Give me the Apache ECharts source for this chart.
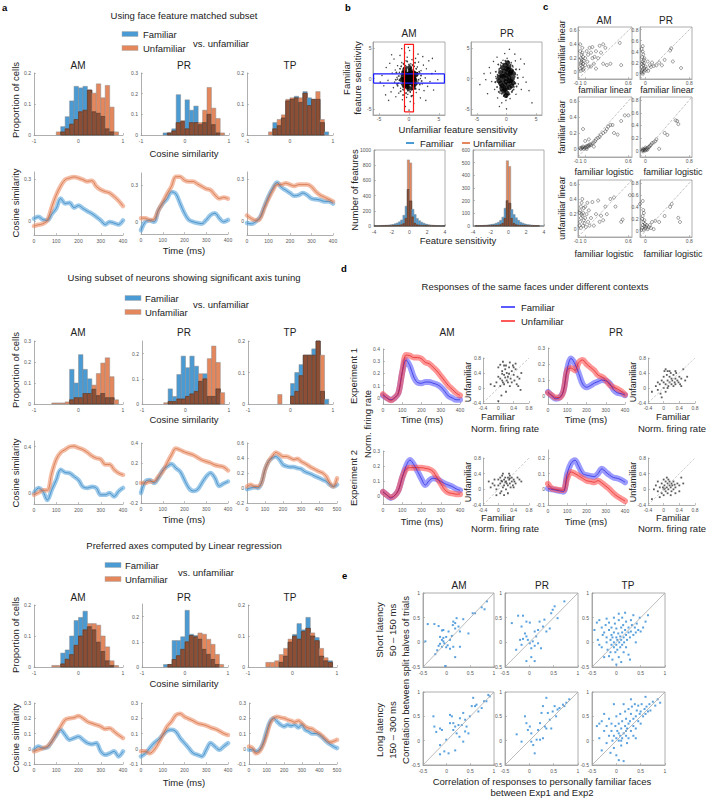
<!DOCTYPE html>
<html><head><meta charset="utf-8">
<script src="https://cdn.jsdelivr.net/npm/echarts@6/dist/echarts.min.js"></script>
<style>html,body{margin:0;padding:0;background:#fff}#c{width:708px;height:798px}</style>
</head><body><div id="c"></div>
<script>
// ---------------- DATA ----------------
const T400 = [0,20,40,60,80,100,120,140,160,180,200,220,240,260,280,300,320,340,360,380,400];
const T500 = [0,20,40,60,80,100,120,140,160,180,200,220,240,260,280,300,320,340,360,380,400,420,440,460,480,500];
const A_BINS = [-0.6,-0.5,-0.4,-0.3,-0.2,-0.1,0,0.1,0.2,0.3,0.4,0.5,0.6,0.7,0.8];
// panel a, section 1 histograms
const S1_AM_FAM_H = [0,0,0.027,0.059,0.11,0.157,0.152,0.157,0.145,0.075,0.07,0.06,0.02,0.01,0];
const S1_AM_UNF_H = [0,0.01,0.01,0.02,0.035,0.05,0.075,0.08,0.145,0.135,0.165,0.12,0.16,0.09,0.01];
const S1_PR_FAM_H = [0,0.01,0.01,0.03,0.195,0.065,0.17,0.12,0.14,0.05,0.06,0.1,0.05,0.01,0];
const S1_PR_UNF_H = [0,0,0.01,0.02,0.06,0.07,0.03,0.06,0.06,0.06,0.12,0.23,0.13,0.08,0.01];
const S1_TP_FAM_H = [0,0,0.04,0.03,0.055,0.11,0.115,0.125,0.105,0.14,0.12,0.115,0.115,0.04,0.01];
const S1_TP_UNF_H = [0,0.01,0.02,0.05,0.065,0.115,0.12,0.12,0.12,0.135,0.095,0.115,0.14,0.05,0];
// section 2 histograms
const S2_AM_FAM_H = [0,0,0,0,0.165,0.1,0.235,0.165,0.12,0.07,0.04,0.05,0.03,0.03,0];
const S2_AM_UNF_H = [0.005,0.005,0.005,0.01,0.02,0.03,0.03,0.05,0.05,0.09,0.145,0.195,0.22,0.13,0.02];
const S2_PR_FAM_H = [0,0,0.06,0.03,0.117,0.19,0.144,0.19,0.15,0.09,0.12,0.03,0.03,0.06,0];
const S2_PR_UNF_H = [0,0.005,0.01,0.01,0.02,0.02,0.03,0.04,0.05,0.12,0.1,0.18,0.23,0.165,0.045];
const S2_TP_FAM_H = [0,0,0,0,0,0,0.065,0.1,0.125,0.155,0.155,0.175,0.2,0.04,0.015];
const S2_TP_UNF_H = [0,0,0,0.03,0,0,0.025,0.04,0.09,0.155,0.155,0.155,0.2,0.155,0];
// section 3 histograms
const S3_AM_FAM_H = [0,0,0.045,0.055,0.1,0.15,0.16,0.18,0.13,0.12,0.08,0.05,0.02,0.005,0];
const S3_AM_UNF_H = [0.005,0.005,0.01,0.025,0.04,0.07,0.1,0.12,0.14,0.14,0.135,0.1,0.065,0.02,0.005];
const S3_PR_FAM_H = [0,0.01,0.01,0.105,0.105,0.12,0.225,0.13,0.125,0.11,0.07,0.05,0.03,0.01,0];
const S3_PR_UNF_H = [0,0,0.01,0.03,0.045,0.07,0.1,0.125,0.12,0.135,0.13,0.11,0.09,0.05,0.01];
const S3_TP_FAM_H = [0,0,0,0.015,0.035,0.08,0.105,0.14,0.12,0.16,0.1,0.095,0.035,0.02,0.02];
const S3_TP_UNF_H = [0.015,0.015,0.02,0.04,0.06,0.09,0.1,0.09,0.115,0.125,0.11,0.085,0.06,0.03,0.015];
// panel a time courses (cosine similarity)
const S1_AM_FAM = [0.017,0.03,0.01,0.005,0.05,0.09,0.16,0.125,0.13,0.095,0.11,0.09,0.07,0.053,0.03,0.005,-0.025,-0.007,-0.015,-0.025,0.005];
const S1_AM_UNF = [-0.036,-0.027,-0.02,0.005,0.1,0.186,0.25,0.295,0.307,0.315,0.307,0.295,0.283,0.288,0.247,0.223,0.21,0.2,0.175,0.145,0.107];
const S1_PR_FAM = [-0.07,0.0,0.01,0.0,0.095,0.15,0.19,0.245,0.23,0.15,0.07,0.015,0.0,-0.01,-0.015,0.015,0.055,0.07,0.03,0.0,0.015];
const S1_PR_UNF = [0.03,0.03,0.015,0.02,0.095,0.16,0.23,0.29,0.37,0.37,0.34,0.33,0.33,0.31,0.29,0.27,0.26,0.22,0.19,0.2,0.19];
const S1_TP_FAM = [-0.015,-0.02,-0.005,0.025,0.1,0.175,0.235,0.275,0.24,0.22,0.2,0.18,0.185,0.2,0.185,0.16,0.155,0.15,0.14,0.14,0.125];
const S1_TP_UNF = [0.04,0.017,0.005,0.017,0.09,0.16,0.22,0.26,0.26,0.27,0.26,0.25,0.26,0.26,0.26,0.245,0.21,0.185,0.17,0.155,0.14];
const S2_AM_FAM = [-0.005,0.04,0.01,-0.065,0.025,0.11,0.2,0.175,0.17,0.14,0.11,0.05,0.04,0.05,0.04,-0.02,-0.02,-0.005,-0.035,0.01,0.04];
const S2_AM_UNF = [-0.02,0,0.02,0.02,0.17,0.29,0.35,0.375,0.4,0.405,0.39,0.375,0.35,0.32,0.3,0.29,0.245,0.245,0.2,0.17,0.155];
const S2_PR_FAM = [-0.1,0.015,0.03,0,0.05,0.13,0.165,0.19,0.15,0.115,0.03,-0.05,-0.08,-0.065,0,0.065,0.1,0.05,-0.03,-0.005,0.015];
const S2_PR_UNF = [0,0,0.015,0.015,0.065,0.115,0.2,0.28,0.345,0.33,0.31,0.295,0.28,0.255,0.23,0.215,0.2,0.18,0.17,0.16,0.125];
const S2_TP_FAM = [-0.015,0,0.01,0,0.065,0.245,0.355,0.4,0.42,0.38,0.31,0.29,0.28,0.28,0.265,0.255,0.22,0.2,0.18,0.155,0.135,0.11,0.09,0.045,0.02,0.045];
const S2_TP_UNF = [0.02,0.045,0.02,0.02,0.065,0.245,0.355,0.42,0.475,0.45,0.42,0.42,0.4,0.38,0.39,0.355,0.33,0.3,0.27,0.245,0.22,0.2,0.155,0.065,0.02,0.13];
const S3_AM_FAM = [-0.007,0.015,0.004,0.009,0.048,0.09,0.124,0.09,0.059,0.07,0.08,0.059,0.037,0.03,0.037,-0.017,-0.04,-0.03,-0.017,-0.05,-0.017];
const S3_AM_UNF = [-0.017,-0.007,0.004,0.015,0.048,0.1,0.146,0.19,0.2,0.204,0.215,0.2,0.178,0.167,0.157,0.146,0.13,0.135,0.113,0.09,0.07];
const S3_PR_FAM = [-0.05,-0.03,0.004,0.037,0.059,0.09,0.117,0.124,0.113,0.07,0.037,0.004,-0.03,-0.04,-0.05,-0.007,0.037,0.015,-0.007,0.015,0.037];
const S3_PR_UNF = [-0.017,-0.017,-0.03,-0.007,0.037,0.09,0.146,0.178,0.22,0.23,0.21,0.196,0.183,0.167,0.16,0.152,0.139,0.13,0.117,0.1,0.09];
const S3_TP_FAM = [-0.007,-0.007,-0.017,-0.007,0.037,0.113,0.178,0.2,0.178,0.157,0.146,0.157,0.15,0.157,0.139,0.157,0.124,0.113,0.1,0.1,0.09,0.07,0.048,0.03,0.015,0.004];
const S3_TP_UNF = [0.015,0.004,-0.03,-0.017,0.026,0.09,0.167,0.2,0.21,0.204,0.2,0.19,0.183,0.174,0.183,0.167,0.146,0.135,0.13,0.113,0.1,0.08,0.059,0.043,0.048,0.059];

// panel b
const B_BINS = [-4,-3.75,-3.5,-3.25,-3,-2.75,-2.5,-2.25,-2,-1.75,-1.5,-1.25,-1,-0.75,-0.5,-0.25,0,0.25,0.5,0.75,1,1.25,1.5,1.75,2,2.25,2.5,2.75,3,3.25,3.5,3.75];
const B_AM_FAM_H = [3,4,5,6,8,10,12,15,20,28,40,55,80,140,260,480,330,220,150,100,70,50,35,25,18,14,10,8,6,5,4,3];
const B_AM_UNF_H = [1,1,1,2,2,3,3,4,5,6,8,10,15,30,100,870,830,120,35,15,10,8,6,5,4,3,2,2,1,1,1,1];
const B_PR_FAM_H = [2,2,3,4,5,6,8,10,13,16,22,30,45,70,140,200,180,130,90,65,45,30,22,16,12,9,7,5,4,3,2,2];
const B_PR_UNF_H = [0,1,1,1,1,2,2,3,3,4,5,6,10,20,60,515,470,60,20,10,6,5,4,3,2,2,1,1,1,1,0,0];
const B_AM_OUTER = [[-4.5,0.5],[-4.2,-1.2],[-3.8,1.8],[-3.5,-0.3],[-3.2,2.5],[-3.0,-2.2],[-2.8,0.9],[-2.6,-1.5],[-2.5,3.2],[-2.3,1.4],[-2.2,-3.0],[-2.0,0.2],[-1.9,2.1],[-1.8,-0.8],[-1.7,-2.4],[-1.6,1.0],[-1.5,3.8],[-1.4,-1.6],[-1.3,0.6],[-1.2,2.6],[-1.1,-3.5],[-1.0,-0.4],[-0.9,1.7],[-0.8,-2.0],[-0.7,4.2],[-0.6,-4.6],[-0.5,2.9],[-0.4,-3.1],[-0.3,3.5],[-0.2,-2.6],[0.1,4.6],[0.2,-3.8],[0.3,2.4],[0.4,-1.9],[0.5,3.1],[0.6,-2.8],[0.7,1.5],[0.8,-4.1],[0.9,2.0],[1.0,-1.1],[1.1,3.3],[1.2,-2.3],[1.3,0.4],[1.4,1.9],[1.5,-0.6],[1.6,2.7],[1.7,-1.8],[1.8,0.9],[1.9,-3.2],[2.0,1.3],[2.2,-0.9],[2.4,2.2],[2.5,-2.0],[2.7,0.1],[2.9,1.6],[3.1,-1.3],[3.3,2.9],[3.5,-0.5],[3.8,0.8],[4.1,-1.9],[4.4,1.2],[4.8,-0.2],[-4.8,-0.6],[-3.9,-2.7],[-2.9,3.9],[-1.2,4.9],[1.5,4.0],[2.8,-3.6],[3.9,3.3],[-3.4,-3.6],[0.0,-5.2],[-0.1,5.1],[1.9,0.0],[-1.9,-0.1],[2.3,3.6],[-2.4,-0.6]];
const B_AM_MID = [[-2.1,1.0],[-1.9,-1.2],[-1.7,0.4],[-1.6,-0.3],[-1.5,1.6],[-1.4,-2.1],[-1.3,2.0],[-1.2,-1.0],[-1.1,1.2],[-1.0,-1.8],[-0.9,2.4],[-0.8,-1.3],[-0.6,2.1],[-0.5,-2.4],[-0.4,1.9],[-0.2,-2.0],[0.0,2.3],[0.2,-2.2],[0.3,1.7],[0.5,-1.8],[0.6,2.2],[0.8,-1.4],[0.9,1.1],[1.1,-1.7],[1.2,1.6],[1.3,-0.9],[1.4,0.9],[1.6,-0.2],[1.7,1.1],[1.8,-1.0],[2.0,0.5],[2.1,-0.4],[-2.2,-0.2],[-2.0,-0.9],[1.0,2.6],[-1.0,-2.7],[0.4,-2.9],[-0.3,2.8]];
const B_AM_CORE = [[-1.0,0.3],[-0.8,-0.6],[-0.6,0.9],[-0.5,-1.1],[-0.4,0.2],[-0.3,-0.3],[-0.2,0.6],[-0.1,-0.8],[0,0],[0.1,0.4],[0.2,-0.5],[0.3,1.0],[0.4,-0.1],[0.5,0.5],[0.6,-0.9],[0.8,0.2],[1.0,-0.4],[0.2,1.3],[-0.3,-1.4],[-1.2,-0.2],[1.2,0.7],[0.0,-1.6],[0.1,1.8],[-0.7,1.5],[0.7,-1.5],[-0.6,0.0],[0.6,0.1],[0.0,0.7],[0.0,-0.7],[-0.4,-0.6],[0.4,0.6],[-0.4,0.6],[0.4,-0.6],[-0.9,-0.1],[0.9,-0.1],[0.2,0.2],[-0.2,-0.1],[0.1,-0.3],[-0.1,0.3],[0.8,0.9],[-0.9,0.9],[-0.8,-1.2],[0.9,-1.0]];
const B_PR_OUTER = [[-4.5,-1.0],[-3.8,0.8],[-3.2,-2.5],[-2.9,1.8],[-2.5,-0.5],[-2.2,2.8],[-2.0,-1.8],[-1.8,0.3],[-1.6,3.5],[-1.5,-3.2],[-1.3,1.4],[-1.1,-2.4],[-1.0,2.2],[-0.8,-4.0],[-0.6,3.0],[-0.5,-2.9],[-0.3,4.1],[-0.1,-3.6],[0.1,3.3],[0.3,-2.7],[0.5,4.8],[0.6,-3.3],[0.8,2.6],[1.0,-2.0],[1.1,1.9],[1.3,-1.4],[1.5,2.9],[1.6,-2.6],[1.8,0.6],[2.0,-0.9],[2.2,1.5],[2.5,-1.8],[2.8,0.2],[3.0,2.4],[3.3,-0.6],[3.8,-2.0],[4.3,-4.0],[-2.7,0.9],[2.4,3.2],[-1.2,-4.6],[0.0,-5.0],[1.4,4.0],[-3.5,-0.2]];
const B_PR_MID = [[-1.9,-0.6],[-1.8,1.1],[-1.6,-1.4],[-1.5,0.6],[-1.4,2.3],[-1.3,-2.2],[-1.2,1.6],[-1.1,-1.2],[-0.9,2.6],[-0.8,-2.5],[-0.6,2.4],[-0.4,-2.7],[-0.2,2.9],[0.0,-3.0],[0.3,2.8],[0.5,-2.6],[0.7,2.3],[0.9,-2.2],[1.1,1.3],[1.2,-1.8],[1.4,0.3],[1.5,-0.8],[1.6,1.5],[1.7,-1.3],[1.9,0.1],[-1.7,0.0],[-1.0,-2.0],[1.0,2.1]];
const B_PR_CORE = [[-1.2,0.2],[-1.0,-0.8],[-1.0,1.0],[-0.8,-1.6],[-0.8,0.4],[-0.7,1.8],[-0.6,-0.3],[-0.5,-2.1],[-0.4,1.2],[-0.3,-1.0],[-0.2,0.6],[-0.2,2.2],[-0.1,-0.5],[0,0],[0,1.6],[0,-1.6],[0.1,-2.4],[0.2,0.9],[0.3,-0.9],[0.4,0.2],[0.4,1.9],[0.5,-1.5],[0.6,0.7],[0.7,-0.4],[0.8,1.3],[0.9,-1.2],[1.0,0.0],[1.2,0.8],[1.1,-0.7],[-1.3,-0.4],[0.2,2.6],[-0.1,-2.8],[-0.5,0.4],[0.5,-0.4],[-0.3,-1.8],[0.3,1.5],[-0.7,-1.2],[0.7,1.0]];
const B_AM_BLUE_BOX = [[-5.9,-0.75],[5.9,-0.75],[5.9,0.75],[-5.9,0.75],[-5.9,-0.75]];
const B_AM_RED_BOX = [[-0.75,-5.5],[0.75,-5.5],[0.75,5.6],[-0.75,5.6],[-0.75,-5.5]];

// panel c
const C1_AM = [[-0.07,0.05],[-0.06,0.1],[-0.05,0.15],[-0.06,0.2],[-0.05,0.25],[-0.07,0.3],[-0.04,0.35],[-0.06,0.02],[-0.04,0.08],[-0.03,0.12],[-0.05,0.18],[-0.03,0.22],[-0.04,0.28],[-0.02,0.05],[-0.02,0.16],[-0.07,0.4],[-0.06,0.13],[-0.03,0.03],[0.0,0.1],[0.0,0.2],[0.02,0.3],[0.03,0.15],[0.05,0.08],[0.04,0.25],[0.08,0.28],[0.1,0.2],[0.12,0.12],[0.06,0.35],[0.1,0.36],[0.15,0.3],[0.18,0.2],[0.2,0.38],[0.22,0.28],[0.25,0.4],[0.28,0.35],[0.25,0.12],[0.3,0.1],[0.35,0.12],[0.15,0.05],[0.48,0.42],[0.5,0.1],[0.13,0.22],[0.08,0.08]];
const C1_PR = [[-0.07,0.02],[-0.06,0.05],[-0.05,0.08],[-0.07,0.12],[-0.04,0.15],[-0.06,0.18],[-0.05,0.22],[-0.03,0.25],[-0.06,0.3],[-0.04,0.35],[-0.05,0.4],[-0.07,0.45],[-0.05,0.5],[-0.03,0.03],[-0.02,0.1],[-0.03,0.19],[-0.01,0.06],[0.0,0.13],[-0.02,0.28],[-0.06,0.0],[0.02,0.08],[0.05,0.05],[0.08,0.15],[0.12,0.2],[0.15,0.14],[0.2,0.15],[0.25,0.2],[0.3,0.15],[0.35,0.25],[0.45,0.42],[0.47,0.46],[0.5,0.22],[0.65,0.1],[0.1,0.12],[0.04,0.22]];
const C2_AM = [[-0.06,0.0],[-0.05,0.02],[-0.04,0.01],[-0.03,0.03],[-0.02,0.0],[-0.01,0.02],[0.0,0.01],[0.01,0.03],[0.02,0.02],[0.03,0.04],[0.04,0.03],[0.05,0.05],[0.06,0.04],[0.07,0.06],[0.08,0.05],[0.1,0.07],[0.12,0.08],[0.14,0.1],[0.15,0.12],[0.18,0.14],[0.2,0.15],[0.22,0.18],[0.25,0.2],[0.28,0.22],[0.3,0.25],[0.32,0.28],[0.35,0.3],[0.38,0.3],[0.4,0.2],[0.45,0.18],[0.5,0.35],[0.55,0.42],[0.6,0.42],[-0.03,0.25],[0.0,0.1],[0.05,0.12],[-0.07,0.01],[0.02,0.0],[0.12,0.03]];
const C2_PR = [[-0.06,0.0],[-0.05,0.01],[-0.04,0.0],[-0.03,0.02],[-0.02,0.01],[-0.01,0.0],[0.0,0.02],[0.01,0.03],[0.02,0.01],[0.03,0.04],[0.05,0.05],[0.07,0.06],[0.08,0.08],[0.1,0.09],[0.12,0.12],[0.15,0.13],[0.18,0.15],[0.2,0.18],[0.25,0.03],[0.35,0.28],[0.4,0.25],[0.55,0.48],[0.58,0.47],[0.6,0.42],[0.0,0.05],[0.04,0.02],[-0.05,0.03]];
const C3_AM = [[-0.08,0.05],[-0.07,0.1],[-0.06,0.15],[-0.05,0.2],[-0.07,0.25],[-0.06,0.3],[-0.05,0.35],[-0.04,0.4],[-0.03,0.05],[-0.02,0.12],[-0.04,0.18],[-0.03,0.22],[-0.02,0.28],[-0.01,0.08],[0.0,0.15],[0.01,0.03],[0.02,0.2],[0.03,0.35],[0.04,0.1],[0.05,0.25],[0.06,0.05],[0.08,0.15],[0.1,0.36],[0.12,0.05],[0.15,0.2],[0.18,0.38],[0.2,0.1],[0.22,0.18],[0.25,0.12],[0.28,0.3],[0.3,0.2],[0.35,0.4],[0.4,0.42],[0.42,0.3],[0.5,0.1],[0.52,0.13],[0.62,0.45],[-0.08,0.22],[-0.06,0.02],[0.0,0.3]];
const C3_PR = [[-0.07,0.02],[-0.06,0.05],[-0.05,0.1],[-0.04,0.15],[-0.06,0.2],[-0.05,0.25],[-0.03,0.3],[-0.04,0.35],[-0.03,0.02],[-0.02,0.08],[-0.01,0.12],[0.0,0.04],[0.01,0.07],[-0.02,0.18],[0.02,0.1],[0.04,0.03],[0.06,0.06],[0.08,0.1],[0.1,0.05],[0.12,0.15],[0.18,0.17],[0.25,0.15],[0.35,0.25],[0.45,0.4],[0.48,0.45],[0.6,0.22],[0.63,0.15],[-0.1,0.45],[-0.05,0.5],[0.15,0.03]];

// panel d
const D1_AM_FAM = [0.02,0,-0.015,0,0.04,0.21,0.31,0.26,0.17,0.125,0.12,0.13,0.13,0.12,0.11,0.09,0.055,0.015,0,-0.015,-0.015];
const D1_AM_UNF = [0.03,0,-0.02,0,0.04,0.21,0.35,0.345,0.33,0.33,0.32,0.29,0.28,0.25,0.22,0.18,0.14,0.1,0.07,0.04,0.02];
const D1_PR_FAM = [0.025,0,-0.017,-0.01,0.03,0.17,0.235,0.2,0.14,0.075,0.055,0.065,0.08,0.09,0.1,0.095,0.08,0.04,0.02,0.015,0.005];
const D1_PR_UNF = [0.02,0.005,-0.01,-0.01,0.03,0.16,0.175,0.16,0.21,0.225,0.2,0.18,0.16,0.13,0.12,0.1,0.07,0.055,0.045,0.03,0.01];
const D2_AM_FAM = [0.03,0.01,-0.01,0.005,0.04,0.125,0.2,0.24,0.21,0.165,0.115,0.075,0.105,0.12,0.115,0.1,0.085,0.075,0.065,0.05,0.04];
const D2_AM_UNF = [0.03,0.01,-0.005,0.005,0.04,0.125,0.18,0.19,0.19,0.19,0.19,0.185,0.18,0.165,0.125,0.085,0.045,0.025,0.02,0.015,0.015];
const D2_PR_FAM = [0.005,0,-0.005,-0.01,-0.015,0.1,0.165,0.185,0.145,0.1,0.09,0.085,0.08,0.1,0.13,0.11,0.09,0.075,0.07,0.06,0.045];
const D2_PR_UNF = [0.035,0.005,0,-0.005,-0.005,0.07,0.11,0.1,0.085,0.07,0.055,0.05,0.045,0.055,0.04,0.02,0,-0.025,-0.045,-0.06,-0.075];
const D1_AM_SC = [[0.0,0.55],[0.05,0.62],[0.1,0.45],[0.12,0.7],[0.15,0.35],[0.18,0.5],[0.2,0.6],[0.22,0.4],[0.25,0.3],[0.28,0.55],[0.3,0.68],[0.32,0.25],[0.35,0.45],[0.38,0.6],[0.4,0.35],[0.42,0.2],[0.45,0.5],[0.48,0.1],[0.5,0.3],[0.52,0.05],[0.55,0.25],[0.58,-0.05],[0.1,0.2],[0.15,0.1],[0.05,0.25],[0.0,0.3],[-0.05,0.15],[-0.1,0.05],[-0.2,0.1],[0.08,-0.2],[0.2,-0.1],[0.25,0.15],[0.3,0.05],[0.35,0.15],[0.18,0.28],[0.28,0.38],[0.4,0.55],[0.45,0.65],[0.1,0.38],[0.22,0.2],[0.05,0.05],[0.15,0.6],[0.0,-0.35],[0.6,0.4],[0.12,0.15]];
const D1_PR_SC = [[-0.3,-0.1],[-0.2,0.05],[-0.15,-0.05],[-0.1,0.1],[-0.08,-0.15],[-0.05,0.2],[0.0,0.0],[0.0,0.3],[0.02,0.45],[0.05,0.1],[0.05,0.5],[0.08,0.35],[0.1,0.2],[0.1,0.45],[0.12,0.05],[0.15,0.3],[0.15,0.15],[0.18,0.4],[0.2,0.1],[0.2,0.25],[0.22,0.2],[0.25,0.05],[0.25,0.35],[0.28,0.15],[0.3,0.25],[0.3,0.1],[0.32,0.4],[0.35,0.2],[0.38,0.15],[0.4,0.3],[0.42,0.1],[0.45,0.25],[0.5,0.5],[0.55,0.2],[0.6,0.3],[-0.05,-0.25],[0.05,-0.1],[0.1,0.0],[-0.15,0.15],[0.0,0.15],[0.15,0.45],[0.3,0.45],[0.45,0.05]];
const D2_AM_SC = [[-0.25,0.2],[-0.2,0.05],[-0.15,0.15],[-0.1,0.1],[-0.05,0.0],[0.0,0.25],[0.0,0.1],[0.05,0.3],[0.05,0.15],[0.08,-0.05],[0.1,0.35],[0.1,0.2],[0.12,0.05],[0.15,0.25],[0.15,0.1],[0.18,0.3],[0.2,0.2],[0.2,0.0],[0.22,0.15],[0.25,0.3],[0.25,0.1],[0.28,0.25],[0.3,0.15],[0.3,0.35],[0.32,0.05],[0.35,0.2],[0.35,0.3],[0.38,0.1],[0.4,0.25],[0.42,0.2],[0.45,0.15],[0.5,0.3],[0.55,0.25],[0.6,0.2],[0.05,-0.1],[0.15,-0.15],[0.25,-0.1],[-0.1,0.25],[0.12,0.4],[0.28,0.4],[0.18,0.18],[0.08,0.22],[0.3,0.28],[0.4,0.05],[-0.05,-0.15]];
const D2_PR_SC = [[-0.3,-0.25],[-0.2,0.1],[-0.15,0.2],[-0.15,-0.05],[-0.1,0.05],[-0.05,0.15],[-0.05,-0.1],[0.0,0.0],[0.0,0.25],[0.02,0.1],[0.05,-0.05],[0.05,0.2],[0.08,0.05],[0.1,0.15],[0.1,-0.1],[0.12,0.0],[0.15,0.1],[0.15,0.2],[0.18,0.05],[0.2,0.15],[0.2,-0.05],[0.22,0.1],[0.25,0.0],[0.25,0.2],[0.28,0.12],[0.3,0.05],[0.35,0.15],[0.4,0.1],[0.45,0.3],[0.5,0.15],[-0.1,-0.2],[0.0,-0.15],[0.08,0.3],[0.12,0.25],[-0.02,0.05],[0.03,0.02],[0.18,-0.15],[0.3,-0.1],[-0.25,0.0],[0.4,-0.05]];

// panel e
const E1_AM = [[-0.45,0.02],[-0.26,0.37],[-0.17,0.33],[-0.4,0.37],[-0.1,0.24],[-0.07,0.25],[-0.14,0.11],[-0.1,0.05],[-0.07,0.02],[-0.05,-0.02],[-0.01,-0.1],[0.02,-0.06],[-0.2,-0.16],[-0.24,-0.24],[0.07,0.05],[0.11,0.13],[0.14,-0.09],[0.18,-0.3],[0.13,0.35],[0.18,0.39],[0.21,0.49],[0.14,0.42],[0.25,0.32],[0.28,0.22],[0.18,0.28],[0.46,0.18],[0.55,0.59],[0.6,0.59],[0.74,0.71],[0.8,0.67],[0.85,0.83],[-0.1,-0.09],[-0.01,0.11],[0.04,0.22],[-0.03,-0.48],[-0.17,-0.07],[-0.14,-0.03],[0.35,0.47],[0.28,-0.09],[0.07,-0.13],[-0.07,0.09]];
const E1_PR = [[-0.36,0.39],[-0.23,0.54],[-0.13,0.54],[-0.16,0.32],[-0.06,0.42],[0.01,0.4],[-0.09,0.18],[-0.06,0.12],[-0.03,0.05],[-0.16,-0.05],[-0.27,-0.15],[0.01,-0.02],[0.04,-0.12],[0.07,0.02],[0.11,-0.07],[0.04,-0.3],[-0.06,-0.38],[0.11,-0.38],[0.14,0.12],[0.18,0.25],[0.21,0.42],[0.28,0.32],[0.31,0.46],[0.35,0.22],[0.42,0.28],[0.45,0.59],[0.48,0.66],[0.52,0.73],[0.58,0.49],[0.72,0.83],[0.18,-0.02],[0.24,-0.12],[-0.13,0.07],[-0.19,0.05],[0.11,0.22]];
const E1_TP = [[-0.45,0.25],[-0.4,0.4],[-0.38,0.05],[-0.35,0.45],[-0.3,0.3],[-0.3,-0.1],[-0.28,0.15],[-0.25,0.2],[-0.25,-0.3],[-0.22,0.35],[-0.2,0.0],[-0.2,0.1],[-0.18,-0.15],[-0.15,0.4],[-0.15,0.25],[-0.12,0.05],[-0.12,-0.2],[-0.1,0.3],[-0.1,0.15],[-0.1,-0.05],[-0.08,0.1],[-0.08,-0.35],[-0.05,0.2],[-0.05,0.0],[-0.05,-0.1],[-0.03,0.38],[-0.02,-0.2],[0.0,0.1],[0.0,-0.05],[0.0,0.28],[0.02,0.05],[0.02,-0.15],[0.04,0.18],[0.05,-0.3],[0.05,0.45],[0.06,0.0],[0.08,0.12],[0.08,-0.1],[0.1,0.3],[0.1,0.05],[0.1,-0.4],[0.12,0.2],[0.12,-0.05],[0.14,0.35],[0.15,0.1],[0.15,-0.2],[0.16,0.0],[0.18,0.25],[0.2,0.42],[0.2,0.15],[0.2,-0.1],[0.22,0.05],[0.25,0.3],[0.25,0.2],[0.25,-0.25],[0.28,0.1],[0.3,0.45],[0.3,0.22],[0.32,0.35],[0.35,0.55],[0.35,0.15],[0.38,0.3],[0.4,0.2],[0.42,0.38],[0.45,0.25],[0.48,0.5],[0.5,0.22],[0.55,0.3],[0.6,0.42],[0.65,0.55],[-0.35,-0.05],[-0.15,-0.28],[0.05,0.58],[0.18,0.6],[0.28,-0.35],[-0.05,0.5],[0.0,-0.45],[0.12,0.5],[-0.2,0.48],[0.4,0.0]];
const E2_AM = [[-0.28,0.5],[-0.26,0.29],[-0.22,0.18],[-0.14,0.25],[-0.1,0.22],[-0.14,-0.09],[-0.05,-0.22],[-0.01,0.02],[0.04,-0.26],[0.07,0.53],[0.11,0.5],[0.14,0.36],[0.18,0.29],[0.21,0.15],[0.25,0.32],[0.27,0.08],[0.18,-0.2],[0.28,0.46],[0.35,0.57],[0.39,0.43],[0.42,0.29],[0.46,0.15],[0.49,0.5],[0.53,0.71],[0.56,0.88],[0.6,0.71],[0.63,0.74],[0.67,0.6],[0.74,0.67],[0.79,0.81],[0.84,0.81],[0.88,0.94],[0.91,0.91],[0.14,0.22],[0.32,0.32],[0.35,-0.02],[-0.14,-0.28],[0.39,0.19],[0.07,0.36]];
const E2_PR = [[-0.26,0.13],[-0.16,-0.02],[-0.09,0.5],[-0.06,0.36],[-0.03,0.22],[0.01,0.29],[0.04,0.15],[0.08,-0.09],[0.11,-0.26],[0.15,0.02],[0.18,0.22],[0.22,0.36],[0.25,0.57],[0.28,0.71],[0.32,0.29],[0.35,0.88],[0.38,0.57],[0.42,0.43],[0.45,0.25],[0.48,0.6],[0.52,0.71],[0.55,0.5],[0.58,0.64],[0.62,0.67],[0.69,0.74],[0.72,0.71],[0.76,0.78],[0.82,0.85],[0.22,0.02],[0.28,0.05],[0.04,-0.02],[0.35,0.25]];
const E2_TP = [[-0.4,0.3],[-0.35,0.05],[-0.3,0.4],[-0.3,-0.2],[-0.25,0.2],[-0.2,0.3],[-0.2,-0.05],[-0.15,0.45],[-0.15,0.1],[-0.12,-0.25],[-0.1,0.35],[-0.1,0.2],[-0.08,0.0],[-0.05,0.75],[-0.05,0.1],[-0.05,-0.15],[-0.02,0.3],[0.0,0.05],[0.0,0.5],[0.0,-0.3],[0.02,0.2],[0.05,0.0],[0.05,0.35],[0.05,-0.4],[0.08,0.1],[0.08,0.55],[0.1,0.25],[0.1,-0.1],[0.12,0.05],[0.12,0.4],[0.15,0.15],[0.15,-0.42],[0.18,0.3],[0.18,0.6],[0.2,0.1],[0.2,0.45],[0.22,0.25],[0.25,0.35],[0.25,0.05],[0.25,0.65],[0.28,0.4],[0.3,0.2],[0.3,0.55],[0.32,0.7],[0.35,0.3],[0.35,0.45],[0.38,0.75],[0.4,0.5],[0.4,0.25],[0.42,0.62],[0.45,0.4],[0.45,0.72],[0.48,0.55],[0.5,0.6],[0.5,0.35],[0.52,0.75],[0.55,0.5],[0.58,0.65],[0.6,0.55],[0.62,0.7],[0.65,0.6],[0.68,0.75],[0.7,0.62],[0.75,0.8],[0.8,0.72],[0.85,0.85],[0.9,0.78],[0.6,0.9],[0.3,0.85],[0.15,0.75],[-0.25,0.55],[0.05,0.15],[0.22,-0.05],[0.4,0.05],[-0.35,0.35],[0.1,0.0],[0.2,0.2],[0.35,0.1]];

// ---------------- BUILD ----------------
const FONT = '"Liberation Sans", Arial, sans-serif';
const C = {hb:'#4a9ad4', ho:'#e5875c', hbr:'#8c4f36', lb:'#5aa5da', lbd:'#2f7fbf', lo:'#ec9068', lod:'#cf6a3c',
           db:'#5a5aff', dbd:'#2222dd', dr:'#ff5050', drd:'#e01e1e', eb:'#2f8ad6'};
const grids=[], xAxis=[], yAxis=[], series=[], graphic=[];
const fmt = v => String(Math.round(v*1000)/1000);
function ax(gi, r, margin) {
  return {type:'value', gridIndex:gi, min:r[0], max:r[1],
    axisLine:{show:true, onZero:false, lineStyle:{color:'#9a9a9a', width:0.8}},
    axisTick:{show:true, inside:true, length:2, customValues:r[2], lineStyle:{color:'#9a9a9a', width:0.6}},
    axisLabel:{show:true, customValues:r[2], fontSize:5, color:'#555', margin:(margin==null?3:margin), fontFamily:FONT, formatter:fmt},
    splitLine:{show:false}};
}
function G(box, xr, yr, framed, margin) {
  const gi = grids.length;
  grids.push({left:box[0], top:box[1], width:box[2], height:box[3], show:!!framed, borderColor:'#9a9a9a', borderWidth:framed?0.8:0, backgroundColor:'transparent'});
  xAxis.push(ax(gi, xr, margin)); yAxis.push(ax(gi, yr, margin));
  return gi;
}
function hist(gi, bins, bw, blue, orange) {
  const d = bins.map((x,i)=>[x, blue[i], orange[i]]);
  series.push({type:'custom', xAxisIndex:gi, yAxisIndex:gi, data:d, silent:true, animation:false, encode:{x:0, y:[1,2]},
    renderItem:(p, api) => {
      const x0=api.value(0), b=api.value(1), o=api.value(2);
      const L=api.coord([x0,0]), R=api.coord([x0+bw,0]);
      const kids=[];
      const mk=(h,fill,stroke)=>{const top=api.coord([x0,h])[1]; kids.push({type:'rect', shape:{x:L[0], y:top, width:R[0]-L[0], height:L[1]-top}, style:{fill, stroke, lineWidth:0.5}});};
      if (b>0) mk(b, C.hb, '#8a8a8a');
      if (o>0) mk(o, C.ho, '#8a8a8a');
      const m=Math.min(b,o); if (m>0) mk(m, C.hbr, '#3a2a20');
      return {type:'group', children:kids};
    }});
}
function band(gi, t, v, col, dark, w) {
  const d = t.map((x,i)=>[x, v[i]]);
  series.push({type:'line', xAxisIndex:gi, yAxisIndex:gi, data:d, symbol:'none', smooth:0.35, silent:true, animation:false, z:2,
    lineStyle:{color:col, width:w, opacity:0.6, cap:'round', join:'round'}});
  series.push({type:'line', xAxisIndex:gi, yAxisIndex:gi, data:d, symbol:'none', smooth:0.35, silent:true, animation:false, z:3,
    lineStyle:{color:dark, width:0.7}});
}
function scat(gi, pts, size, style, symbol) {
  series.push({type:'scatter', xAxisIndex:gi, yAxisIndex:gi, data:pts, symbol:symbol||'circle', symbolSize:size, itemStyle:style, silent:true, animation:false, z:4});
}
function poly(gi, pts, color, dashed, w) {
  series.push({type:'line', xAxisIndex:gi, yAxisIndex:gi, data:pts, symbol:'none', silent:true, animation:false, z:5,
    lineStyle:{color, width:w||0.7, type:dashed?'dashed':'solid'}});
}
function txt(s, x, y, size, o) {
  o = o || {};
  graphic.push({type:'text', x, y, rotation:o.rot||0, silent:true, z:100,
    style:{text:s, fontSize:size, fontFamily:FONT, fontWeight:o.bold?'bold':'normal', fill:o.color||'#222',
      align:o.align||'center', verticalAlign:'middle', textAlign:o.align||'center', textVerticalAlign:'middle'}});
}
function rect(x,y,w,h,fill,stroke){ graphic.push({type:'rect', silent:true, z:100, shape:{x,y,width:w,height:h}, style:{fill, stroke:stroke||'none', lineWidth:0.5}}); }
function seg(x1,y1,x2,y2,color,w){ graphic.push({type:'line', silent:true, z:100, shape:{x1,y1,x2,y2}, style:{stroke:color, lineWidth:w||1.2}}); }
const R90 = Math.PI/2;

// ---- panel a ----
const HX = [-1,1,[-1,0,1]];
const TX4 = [0,400,[0,100,200,300,400]], TX5 = [0,500,[0,100,200,300,400,500]];
const secs = [
  {hist:[[34,73,89,62],[141,73,88,62],[247,73,86,62]], hy:[[0,0.2,[0,0.1,0.2]],[0,0.3,[0,0.1,0.2,0.3]],[0,0.2,[0,0.1,0.2]]],
   H:[[S1_AM_FAM_H,S1_AM_UNF_H],[S1_PR_FAM_H,S1_PR_UNF_H],[S1_TP_FAM_H,S1_TP_UNF_H]],
   line:[[34,172,89,63],[141,173,87,61],[247,172,86,63]], lx:[TX4,TX4,TX4],
   ly:[[-0.1,0.35,[0,0.3]],[-0.1,0.4,[0,0.3]],[-0.1,0.35,[0,0.3]]],
   L:[[T400,S1_AM_FAM,S1_AM_UNF],[T400,S1_PR_FAM,S1_PR_UNF],[T400,S1_TP_FAM,S1_TP_UNF]]},
  {hist:[[34,341,89,63],[142,341,87,63],[248,341,85,63]], hy:[[0,0.3,[0,0.1,0.2,0.3]],[0,0.25,[0,0.1,0.2]],[0,0.2,[0,0.1,0.2]]],
   H:[[S2_AM_FAM_H,S2_AM_UNF_H],[S2_PR_FAM_H,S2_PR_UNF_H],[S2_TP_FAM_H,S2_TP_UNF_H]],
   line:[[34,441,89,63],[141,443,87,60],[247,443,90,60]], lx:[TX4,TX4,TX5],
   ly:[[-0.1,0.45,[0,0.4]],[-0.2,0.4,[-0.2,0,0.2,0.4]],[-0.2,0.6,[-0.2,0,0.2,0.4,0.6]]],
   L:[[T400,S2_AM_FAM,S2_AM_UNF],[T400,S2_PR_FAM,S2_PR_UNF],[T500,S2_TP_FAM,S2_TP_UNF]]},
  {hist:[[34,605,89,62],[142,604,86,63],[248,605,89,62]], hy:[[0,0.2,[0,0.1,0.2]],[0,0.25,[0,0.1,0.2]],[0,0.2,[0,0.1,0.2]]],
   H:[[S3_AM_FAM_H,S3_AM_UNF_H],[S3_PR_FAM_H,S3_PR_UNF_H],[S3_TP_FAM_H,S3_TP_UNF_H]],
   line:[[34,703,89,61],[141,703,87,61],[249,703,88,61]], lx:[TX4,TX4,TX5],
   ly:[[-0.1,0.3,[-0.1,0,0.1,0.2,0.3]],[-0.1,0.3,[-0.1,0,0.1,0.2,0.3]],[-0.1,0.3,[-0.1,0,0.1,0.2,0.3]]],
   L:[[T400,S3_AM_FAM,S3_AM_UNF],[T400,S3_PR_FAM,S3_PR_UNF],[T500,S3_TP_FAM,S3_TP_UNF]]}
];
secs.forEach(s => {
  for (let k=0;k<3;k++) {
    const g = G(s.hist[k], HX, s.hy[k]);
    hist(g, A_BINS, 0.1, s.H[k][0], s.H[k][1]);
    const g2 = G(s.line[k], s.lx[k], s.ly[k]);
    band(g2, s.L[k][0], s.L[k][1], C.lb, C.lbd, 4.5);
    band(g2, s.L[k][0], s.L[k][2], C.lo, C.lod, 4.5);
  }
});
txt('a', 2, 7, 9.5, {bold:true, align:'left', color:'#000'});
const secText = [
  {title:'Using face feature matched subset', ty:15, lg:[122,34,48,143,193,43], st:65, pl:100, cx:153, cl:203, tm:250},
  {title:'Using subset of neurons showing significant axis tuning', ty:277, lg:[125,298,312,145,193,304], st:332, pl:370, cx:419, cl:473, tm:519},
  {title:'Preferred axes computed by Linear regression', ty:545, lg:[105,565,579,125,178,572], st:597, pl:635, cx:683, cl:738, tm:782}
];
secText.forEach(s => {
  txt(s.title, 184, s.ty, 9.5);
  rect(s.lg[0], s.lg[1]-2.5, 16, 5, C.hb, '#aaa');
  rect(s.lg[0], s.lg[2]-2.5, 16, 5, C.ho, '#aaa');
  txt('Familiar', s.lg[3], s.lg[1], 9.5, {align:'left'});
  txt('Unfamiliar', s.lg[3], s.lg[2], 9.5, {align:'left'});
  txt('vs. unfamiliar', s.lg[4], s.lg[5], 9.5, {align:'left'});
  txt('AM', 78, s.st, 10); txt('PR', 184, s.st, 10); txt('TP', 290, s.st, 10);
  txt('Proportion of cells', 15, s.pl, 9.5, {rot:R90});
  txt('Cosine similarity', 184, s.cx, 9.5);
  txt('Cosine similarity', 15, s.cl, 9.5, {rot:R90});
  txt('Time (ms)', 184, s.tm, 9.5);
});

// ---- panel b ----
const BS = [-6,6,[-5,0,5]];
const gbA = G([373,42,72,73], BS, BS, true, 1.5);
scat(gbA, B_AM_OUTER, 1.4, {color:'#111'});
scat(gbA, B_AM_MID, 1.8, {color:'#111'});
scat(gbA, B_AM_CORE, 5, {color:'#000'});
poly(gbA, B_AM_BLUE_BOX, '#1a1aff', false, 1.2);
poly(gbA, B_AM_RED_BOX, '#ff1a1a', false, 1.2);
const gbP = G([471,42,71,73], BS, BS, true, 1.5);
scat(gbP, B_PR_OUTER, 1.4, {color:'#111'});
scat(gbP, B_PR_MID, 1.8, {color:'#111'});
scat(gbP, B_PR_CORE, 5, {color:'#000'});
const gbhA = G([374,150,71,76], [-4,4,[-4,-2,0,2,4]], [0,1000,[0,200,400,600,800,1000]], true);
hist(gbhA, B_BINS, 0.25, B_AM_FAM_H, B_AM_UNF_H);
const gbhP = G([473,150,71,76], [-4,4,[-4,-2,0,2,4]], [0,600,[0,100,200,300,400,500,600]], true);
hist(gbhP, B_BINS, 0.25, B_PR_FAM_H, B_PR_UNF_H);
txt('b', 345, 7, 9.5, {bold:true, align:'left', color:'#000'});
txt('AM', 409, 33, 10); txt('PR', 507, 33, 10);
txt('Familiar', 346, 78, 9.5, {rot:R90});
txt('feature sensitivity', 357, 78, 9.5, {rot:R90});
txt('Unfamiliar feature sensitivity', 458, 129, 9.5);
seg(406,143,414,143,C.hb,2); txt('Familiar', 420, 143, 9.5, {align:'left'});
seg(462,143,470,143,C.ho,2); txt('Unfamiliar', 473, 143, 9.5, {align:'left'});
txt('Number of features', 354, 190, 9.5, {rot:R90});
txt('Feature sensitivity', 458, 240, 9.5);

// ---- panel c ----
const CA = [-0.1,0.65], CP = [-0.1,0.85];
const cRows = [[27,52,C1_AM,C1_PR],[97,60,C2_AM,C2_PR],[180,57,C3_AM,C3_PR]];
cRows.forEach(r => {
  const ga = G([578,r[0],54,r[1]], [CA[0],CA[1],[-0.1,0,0.6]], [CA[0],CA[1],[0,0.2,0.4,0.6]], true, 1.5);
  poly(ga, [[CA[0],CA[0]],[CA[1],CA[1]]], '#aaa', true, 0.7);
  scat(ga, r[2], 3, {color:'transparent', borderColor:'#333', borderWidth:0.6});
  const gp = G([640,r[0],52,r[1]], [CP[0],CP[1],[-0.1,0,0.8]], [CP[0],CP[1],[0,0.2,0.4,0.6,0.8]], true, 1.5);
  poly(gp, [[CP[0],CP[0]],[CP[1],CP[1]]], '#aaa', true, 0.7);
  scat(gp, r[3], 3, {color:'transparent', borderColor:'#333', borderWidth:0.6});
});
txt('c', 543, 6, 9.5, {bold:true, align:'left', color:'#000'});
txt('AM', 604, 20, 10); txt('PR', 666, 20, 10);
txt('unfamiliar linear', 562, 52, 9, {rot:R90});
txt('familiar linear', 605, 90, 9); txt('familiar linear', 667, 90, 9);
txt('familiar linear', 562, 127, 9, {rot:R90});
txt('familiar logistic', 604, 172, 9); txt('familiar logistic', 673, 172, 9);
txt('unfamiliar linear', 562, 208, 9, {rot:R90});
txt('familiar logistic', 604, 254, 9); txt('familiar logistic', 673, 254, 9);

// ---- panel d ----
const DS = [-0.4,0.8,[-0.4,0,0.4,0.8]];
const dPlots = [
  {line:[383,349,77,55], ly:[-0.05,0.4,[0,0.1,0.2,0.3,0.4]], F:D1_AM_FAM, U:D1_AM_UNF, sc:[483,358,46,45], S:D1_AM_SC},
  {line:[548,348,77,56], ly:[-0.05,0.3,[0,0.1,0.2,0.3]], F:D1_PR_FAM, U:D1_PR_UNF, sc:[648,358,47,45], S:D1_PR_SC},
  {line:[383,451,77,53], ly:[-0.05,0.3,[0,0.1,0.2,0.3]], F:D2_AM_FAM, U:D2_AM_UNF, sc:[483,458,46,47], S:D2_AM_SC},
  {line:[548,450,77,55], ly:[-0.1,0.25,[-0.1,0,0.1,0.2]], F:D2_PR_FAM, U:D2_PR_UNF, sc:[648,458,47,47], S:D2_PR_SC}
];
dPlots.forEach(p => {
  const g = G(p.line, TX4, p.ly);
  band(g, T400, p.F, C.db, C.dbd, 6);
  band(g, T400, p.U, C.dr, C.drd, 6);
  const gs = G(p.sc, DS, DS, false, 2);
  poly(gs, [[DS[0],DS[0]],[DS[1],DS[1]]], '#bbb', true, 0.7);
  scat(gs, p.S, 1.8, {color:'#333'}, 'rect');
});
txt('d', 341, 268, 9.5, {bold:true, align:'left', color:'#000'});
txt('Responses of the same faces under different contexts', 535, 286, 9.5);
seg(501,307,515,307,'#0000ff',1.3); txt('Familiar', 521, 307, 9.5, {align:'left'});
seg(501,321,515,321,'#ff0000',1.3); txt('Unfamiliar', 521, 321, 9.5, {align:'left'});
txt('AM', 447, 332, 10); txt('PR', 616, 332, 10);
txt('Experiment 1', 353, 376, 9.5, {rot:R90});
txt('Experiment 2', 353, 478, 9.5, {rot:R90});
txt('Norm. firing rate', 367, 424, 9.5, {rot:R90});
[[419,416,428,382],[521,517,528,482]].forEach(r => {
  txt('Time (ms)', 422, r[0], 9.5); txt('Time (ms)', 586, r[0], 9.5);
  txt('Familiar', 498, r[1], 9.5); txt('Familiar', 673, r[1], 9.5);
  txt('Norm. firing rate', 505, r[2], 9.5); txt('Norm. firing rate', 672, r[2], 9.5);
  txt('Unfamiliar', 468, r[3], 9, {rot:R90}); txt('Unfamiliar', 633, r[3], 9, {rot:R90});
});

// ---- panel e ----
const ES = [-0.5,1,[-0.5,0,0.5,1]];
const eCols = [[423,71],[505,73],[592,73]];
const eRows = [[593,74,[E1_AM,E1_PR,E1_TP]],[692,73,[E2_AM,E2_PR,E2_TP]]];
eRows.forEach(r => {
  eCols.forEach((c,k) => {
    const g = G([c[0],r[0],c[1],r[1]], ES, ES, true);
    poly(g, [[ES[0],ES[0]],[ES[1],ES[1]]], '#aaa', false, 0.8);
    scat(g, r[2][k], 2, {color:C.eb}, 'rect');
  });
});
txt('e', 342, 575, 9.5, {bold:true, align:'left', color:'#000'});
txt('AM', 459, 585, 10); txt('PR', 542, 585, 10); txt('TP', 628, 585, 10);
txt('Short latency', 379, 630, 9.5, {rot:R90});
txt('50 \u2013 150 ms', 392, 630, 9.5, {rot:R90});
txt('Long latency', 379, 730, 9.5, {rot:R90});
txt('150 \u2013 300 ms', 392, 730, 9.5, {rot:R90});
txt('Correlation between split halves of trials', 405, 680, 9.5, {rot:R90});
txt('Correlation of responses to personally familiar faces', 542, 781, 9.5);
txt('between Exp1 and Exp2', 542, 792, 9.5);

const chart = echarts.init(document.getElementById('c'), null, {renderer:'svg'});
chart.setOption({backgroundColor:'#fff', animation:false, grid:grids, xAxis, yAxis, series, graphic});
</script></body></html>
